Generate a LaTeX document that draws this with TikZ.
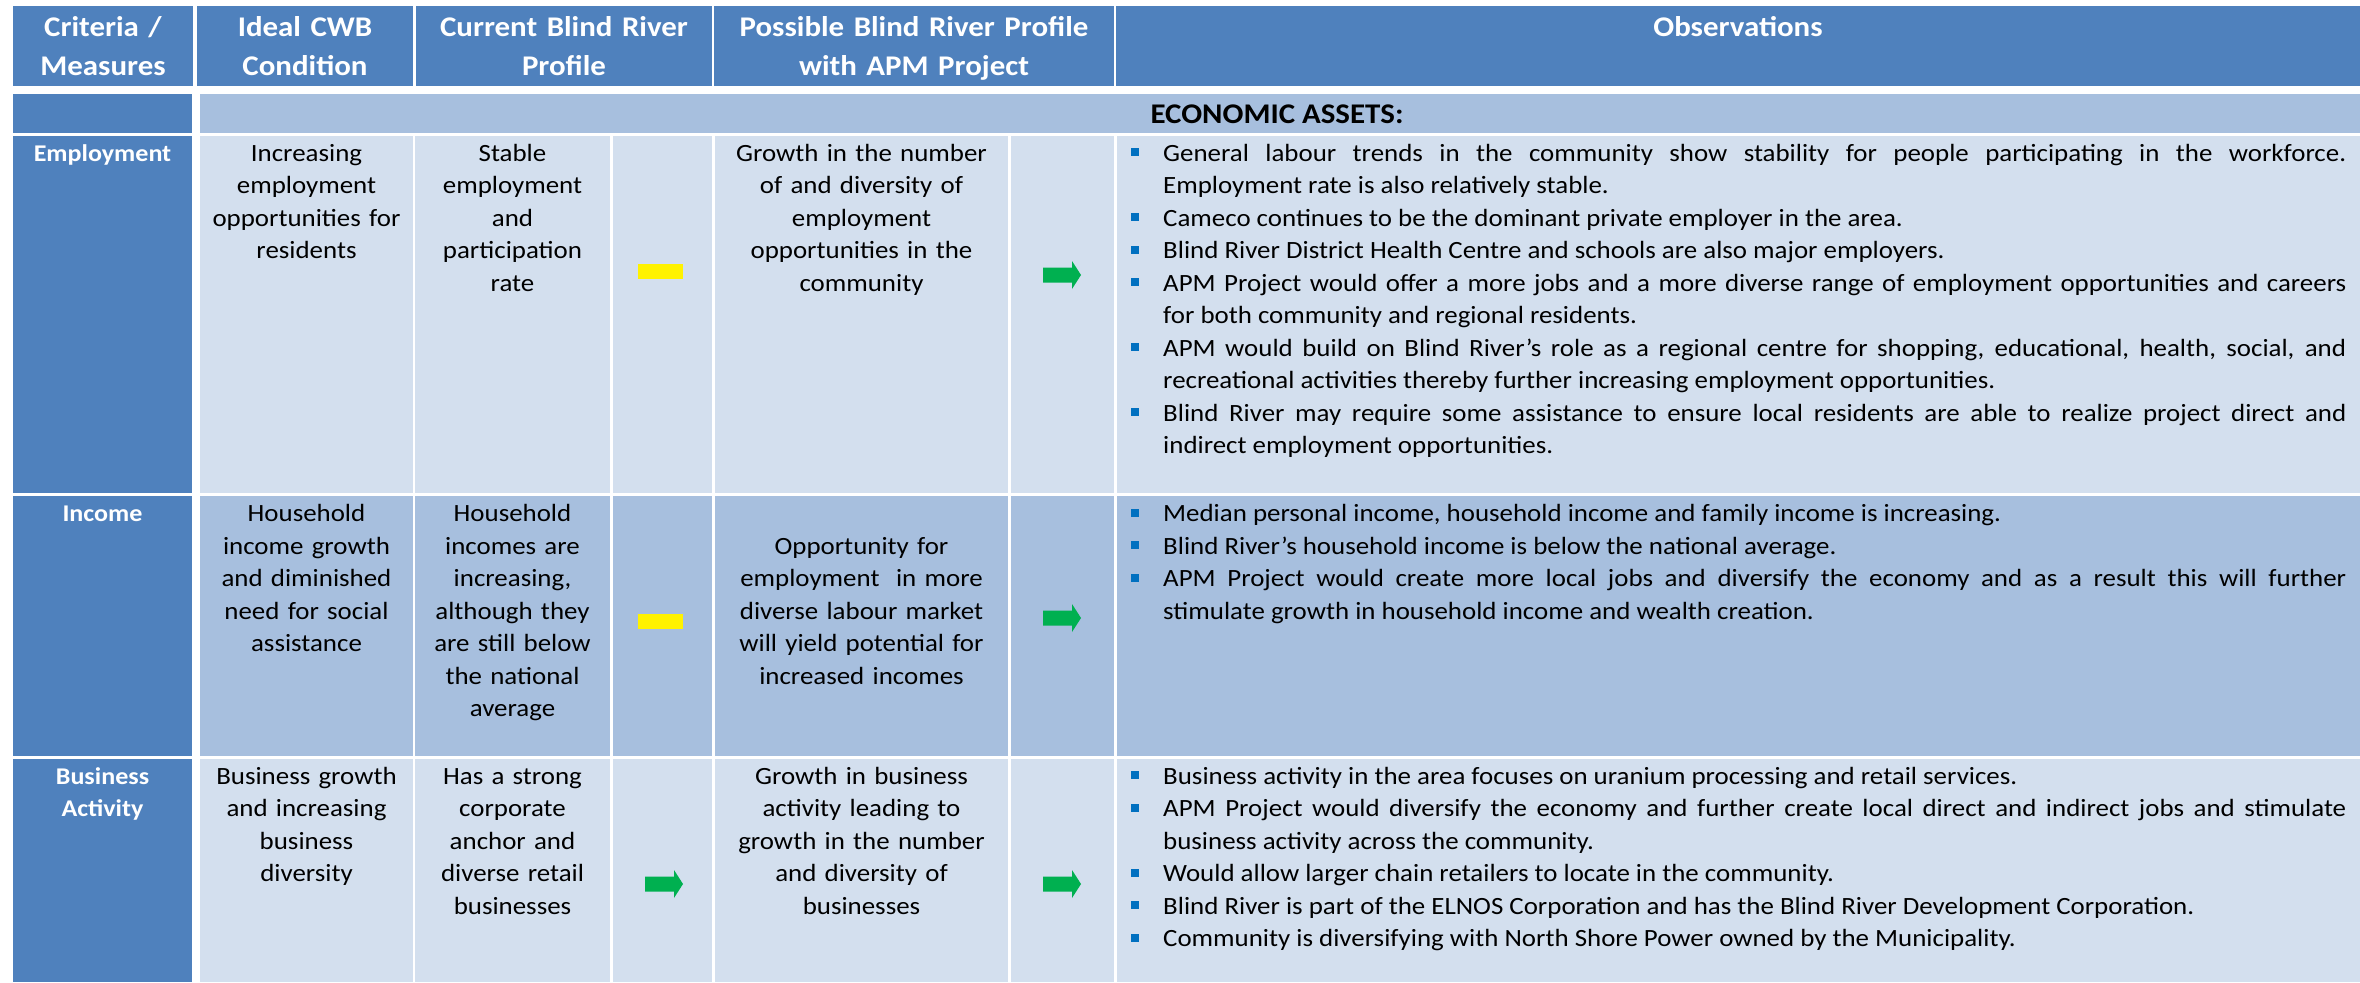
\documentclass[tikz,border=0pt]{standalone}
\usepackage{fontspec}
\setmainfont{Carlito}[FakeStretch=1.085]

\definecolor{hdrblue}{HTML}{4F81BD}
\definecolor{bandA}{HTML}{A7BFDE}
\definecolor{bandB}{HTML}{D3DFEE}
\definecolor{arrowgreen}{HTML}{00B050}
\definecolor{bulletblue}{HTML}{0070C0}

\newcommand{\bodyfont}{\fontsize{24.8}{32.5}\selectfont}
\newcommand{\hdrfont}{\bfseries\fontsize{28.5}{39}\selectfont}
\newcommand{\obsitem}[1]{\hangindent=32pt\hangafter=1\noindent\makebox[32pt][l]{\raisebox{5pt}{\textcolor{bulletblue}{\rule{8pt}{8pt}}}}#1\par}

\tikzset{
  hdr/.style={anchor=base, align=center, text width=#1, text=white, font=\hdrfont, inner sep=0pt},
  crit/.style={anchor=base, align=center, text width=175pt, text=white, font=\bfseries\fontsize{24}{32.5}\selectfont, inner sep=0pt},
  cell/.style={anchor=base, align=center, text width=#1, font=\bodyfont, inner sep=0pt},
  obs/.style={anchor=base west, align=justify, text width=1215pt, font=\bodyfont, inner sep=0pt},
  steady/.style={fill=yellow, minimum width=45pt, minimum height=15pt, inner sep=0pt},
  trend/.pic={\fill[arrowgreen] (-18,-7.5) -- (11,-7.5) -- (11,-14) -- (20,0) -- (11,14) -- (11,7.5) -- (-18,7.5) -- cycle;}
}

\begin{document}
\begin{tikzpicture}[x=1pt, y=-1pt]
\useasboundingbox (0,0) rectangle (2360,982);
\fill[white] (0,0) rectangle (2360,982);

% header row
\fill[hdrblue] (13,6) rectangle (193,86);
\fill[hdrblue] (197,6) rectangle (413,86);
\fill[hdrblue] (416,6) rectangle (712,86);
\fill[hdrblue] (714,6) rectangle (1114,86);
\fill[hdrblue] (1116,6) rectangle (2360,86);
\node[hdr=175pt] (hCrit) at (103,37) {Criteria /\\Measures};
\node[hdr=210pt] (hIdeal) at (305,37) {Ideal CWB\\Condition};
\node[hdr=290pt] (hCurrent) at (564,37) {Current Blind River\\Profile};
\node[hdr=395pt] (hPossible) at (914,37) {Possible Blind River Profile\\with APM Project};
\node[hdr=400pt] (hObs) at (1738,37) {Observations};

% section row
\fill[hdrblue] (13,94) rectangle (192,133);
\fill[bandA] (200,94) rectangle (2360,133);
\node[anchor=base, font=\hdrfont, inner sep=0pt] (econ) at (1277,123) {ECONOMIC ASSETS:};

% body rows
\foreach \ya/\yb/\band in {136/493/bandB, 496/756/bandA, 759/982/bandB} {
  \fill[hdrblue] (13,\ya) rectangle (192,\yb);
  \foreach \l/\r in {200/413, 415/610, 613/712, 715/1008, 1011/1114, 1117/2360}
    \fill[\band] (\l,\ya) rectangle (\r,\yb);
}

% employment
\node[crit] (empCrit) at (102.5,161) {Employment};
\node[cell=205pt] (empIdeal) at (306.5,161) {Increasing\\employment\\opportunities for\\residents};
\node[cell=190pt] (empCurrent) at (512.5,161) {Stable\\employment\\and\\participation\\rate};
\node[steady] (empSteady) at (660,271) {};
\node[cell=285pt] (empPossible) at (861.5,161) {Growth in the number\\of and diversity of\\employment\\opportunities in the\\community};
\pic (empTrend) at (1061,275) {trend};
\node[obs] (empObs) at (1131,161) {%
\obsitem{General labour trends in the community show stability for people participating in the workforce. \linebreak Employment rate is also relatively stable.}
\obsitem{Cameco continues to be the dominant private employer in the area.}
\obsitem{Blind River District Health Centre and schools are also major employers.}
\obsitem{APM Project would offer a more jobs and a more diverse range of employment opportunities and careers \linebreak for both community and regional residents.}
\obsitem{APM would build on Blind River’s role as a regional centre for shopping, educational, health, social, and \linebreak recreational activities thereby further increasing employment opportunities.}
\obsitem{Blind River may require some assistance to ensure local residents are able to realize project direct and \linebreak indirect employment opportunities.}};

% income
\node[crit] (incCrit) at (102.5,521.5) {Income};
\node[cell=205pt] (incIdeal) at (306.5,521.5) {Household\\income growth\\and diminished\\need for social\\assistance};
\node[cell=190pt] (incCurrent) at (512.5,521.5) {Household\\incomes are\\increasing,\\although they\\are still below\\the national\\average};
\node[steady] (incSteady) at (660,621) {};
\node[cell=285pt] (incPossible) at (861.5,554) {Opportunity for\\employment\ \ in more\\diverse labour market\\will yield potential for\\increased incomes};
\pic (incTrend) at (1061,618) {trend};
\node[obs] (incObs) at (1131,521.5) {%
\obsitem{Median personal income, household income and family income is increasing.}
\obsitem{Blind River’s household income is below the national average.}
\obsitem{APM Project would create more local jobs and diversify the economy and as a result this will further \linebreak stimulate growth in household income and wealth creation.}};

% business activity
\node[crit] (busCrit) at (102.5,784) {Business\\Activity};
\node[cell=205pt] (busIdeal) at (306.5,784) {Business growth\\and increasing\\business\\diversity};
\node[cell=190pt] (busCurrent) at (512.5,784) {Has a strong\\corporate\\anchor and\\diverse retail\\businesses};
\pic (busTrendA) at (663,884) {trend};
\node[cell=285pt] (busPossible) at (861.5,784) {Growth in business\\activity leading to\\growth in the number\\and diversity of\\businesses};
\pic (busTrendB) at (1061,884) {trend};
\node[obs] (busObs) at (1131,784) {%
\obsitem{Business activity in the area focuses on uranium processing and retail services.}
\obsitem{APM Project would diversify the economy and further create local direct and indirect jobs and stimulate \linebreak business activity across the community.}
\obsitem{Would allow larger chain retailers to locate in the community.}
\obsitem{Blind River is part of the ELNOS Corporation and has the Blind River Development Corporation.}
\obsitem{Community is diversifying with North Shore Power owned by the Municipality.}};
\end{tikzpicture}
\end{document}
